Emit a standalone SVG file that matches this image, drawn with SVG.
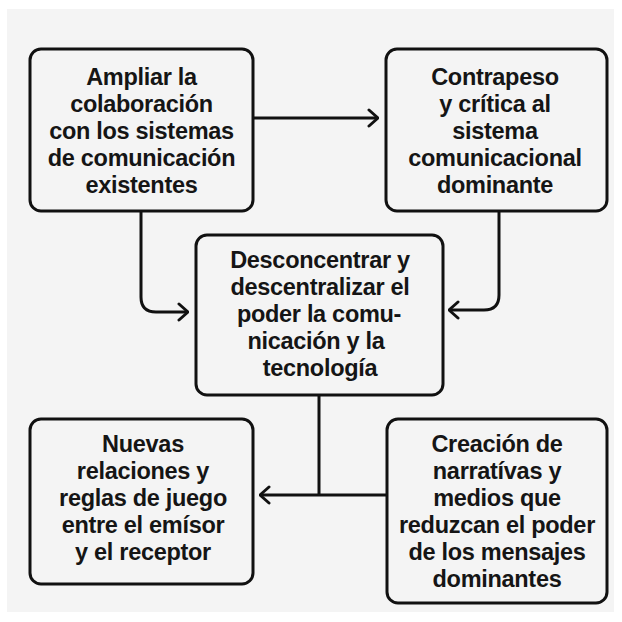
<svg xmlns="http://www.w3.org/2000/svg" width="622" height="622" viewBox="0 0 622 622">
<defs>
<style>
.box{fill:#f4f4f4;stroke:#111;stroke-width:3}
.t{font-family:"Liberation Sans",Arial,sans-serif;font-weight:bold;font-size:23.5px;letter-spacing:-0.3px;fill:#151515;text-anchor:middle}
.c{fill:none;stroke:#111;stroke-width:3}
</style>
<marker id="ah" viewBox="0 0 12 20" refX="11" refY="10" markerWidth="12" markerHeight="20" markerUnits="userSpaceOnUse" orient="auto">
<path d="M2,2 L11,10 L2,18" fill="none" stroke="#111" stroke-width="3" stroke-linecap="round" stroke-linejoin="round"/>
</marker>
</defs>
<rect x="0" y="0" width="622" height="622" fill="#ffffff"/>
<rect x="7" y="9" width="607" height="603" fill="#f4f4f4"/>
<g id="connectors">
<path class="c" d="M253,118 H378" marker-end="url(#ah)"/>
<path class="c" d="M141,211 V297 Q141,312 156,312 H188" marker-end="url(#ah)"/>
<path class="c" d="M499,211 V295 Q499,310 484,310 H449" marker-end="url(#ah)"/>
<path class="c" d="M319,395 V495"/>
<path class="c" d="M387,495 H260" marker-end="url(#ah)"/>
</g>
<g id="n1">
<rect class="box" x="30" y="49" width="223" height="162" rx="11"/>
<text class="t" x="141.5" y="85">Ampliar la</text>
<text class="t" x="141.5" y="112">colaboración</text>
<text class="t" x="141.5" y="139">con los sistemas</text>
<text class="t" x="141.5" y="166">de comunicación</text>
<text class="t" x="141.5" y="193">existentes</text>
</g>
<g id="n2">
<rect class="box" x="386" y="49" width="221" height="162" rx="11"/>
<text class="t" x="495" y="85">Contrapeso</text>
<text class="t" x="495" y="112">y crítica al</text>
<text class="t" x="495" y="139">sistema</text>
<text class="t" x="495" y="166">comunicacional</text>
<text class="t" x="495" y="193">dominante</text>
</g>
<g id="n3">
<rect class="box" x="196" y="235" width="247" height="160" rx="11"/>
<text class="t" x="320" y="268">Desconcentrar y</text>
<text class="t" x="320" y="295">descentralizar el</text>
<text class="t" x="319" y="322">poder la comu-</text>
<text class="t" x="316" y="349">nicación y la</text>
<text class="t" x="320" y="376">tecnología</text>
</g>
<g id="n4">
<rect class="box" x="30" y="419" width="223" height="165" rx="11"/>
<text class="t" x="143" y="452">Nuevas</text>
<text class="t" x="143" y="479">relaciones y</text>
<text class="t" x="143" y="506">reglas de juego</text>
<text class="t" x="143" y="533">entre el emísor</text>
<text class="t" x="143" y="560">y el receptor</text>
</g>
<g id="n5">
<rect class="box" x="387" y="419" width="220" height="184" rx="11"/>
<text class="t" x="497" y="452">Creación de</text>
<text class="t" x="497" y="479">narratívas y</text>
<text class="t" x="497" y="506">medios que</text>
<text class="t" x="497" y="533">reduzcan el poder</text>
<text class="t" x="497" y="560">de los mensajes</text>
<text class="t" x="497" y="587">dominantes</text>
</g>
</svg>
